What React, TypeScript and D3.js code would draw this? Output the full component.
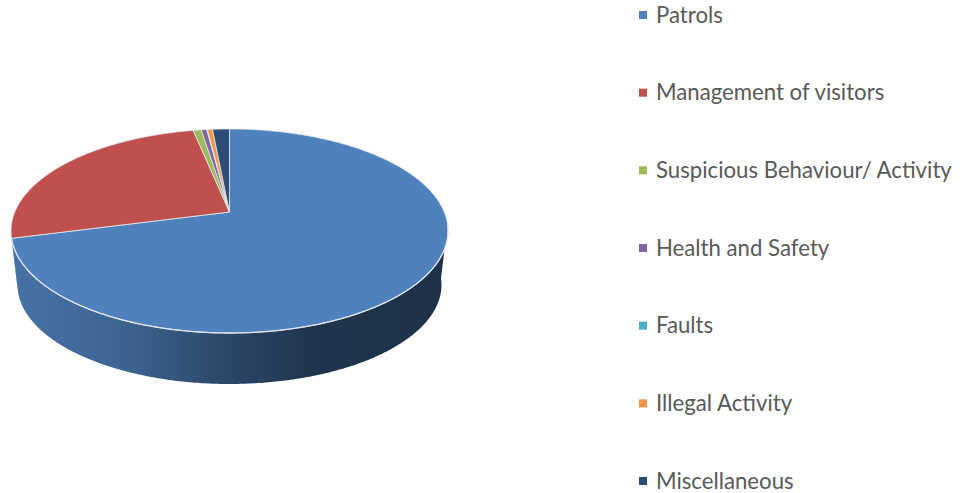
import React from "react";
import * as d3 from "d3";

const categories = ["Patrols", "Management of visitors", "Suspicious Behaviour/ Activity", "Health and Safety", "Faults", "Illegal Activity", "Miscellaneous"];
const shares = [70.9, 25.9, 0.7, 0.5, 0.05, 0.45, 1.5];
const colors = ["#4f81bd", "#c0504d", "#9bbb59", "#8064a2", "#4bacc6", "#f79646", "#2c4d75"];

const WIDTH = 963;
const HEIGHT = 493;
const apex = { x: 229.5, y: 212 };
const A = 214.7;
const B = 98.5;
const K = -0.186;
const wallScale = 0.97;
const wallDrop = 54.6;
const visibleFrom = (97 * Math.PI) / 180;
const visibleTo = (259 * Math.PI) / 180;

const project = (theta: number, base = false): [number, number] => {
  const u = Math.sin(theta);
  const v = -Math.cos(theta);
  const w = 1 + K * v;
  const s = base ? wallScale : 1;
  return [apex.x + (s * A * u) / w, apex.y + (base ? wallDrop : 0) + (s * B * v) / w];
};

const samples = (a: number, b: number): number[] => {
  const n = Math.max(2, Math.ceil(Math.abs(b - a) / 0.01));
  return d3.range(n + 1).map((i) => a + ((b - a) * i) / n);
};

const line = d3.line<[number, number]>().x((d) => d[0]).y((d) => d[1]);

const arcs = d3
  .pie<number>()
  .sort(null)
  .startAngle(0)
  .endAngle(2 * Math.PI)(shares);

const legendY = d3.scalePoint<string>().domain(categories).range([15, 481]);

const topPath = (a: number, b: number) =>
  line([[apex.x, apex.y], ...samples(a, b).map((t) => project(t))])! + "Z";

const wallPath = (a: number, b: number) => {
  const s = Math.max(a, visibleFrom);
  const e = Math.min(b, visibleTo);
  if (e <= s) return null;
  return (
    line([
      ...samples(s, e).map((t) => project(t)),
      ...samples(e, s).map((t) => project(t, true)),
    ])! + "Z"
  );
};

export default function App() {
  return (
    <svg
      width={WIDTH}
      height={HEIGHT}
      viewBox={`0 0 ${WIDTH} ${HEIGHT}`}
      style={{ position: "absolute", left: 0, top: 0, display: "block", background: "#fff" }}
    >
      <defs>
        <linearGradient id="wall" gradientUnits="userSpaceOnUse" x1={11} x2={448} y1={0} y2={0}>
          <stop offset="0" stopColor="#4672a5" />
          <stop offset="0.25" stopColor="#3d6592" />
          <stop offset="0.5" stopColor="#2b4667" />
          <stop offset="0.7" stopColor="#1f344d" />
          <stop offset="1" stopColor="#1e3148" />
        </linearGradient>
      </defs>
      {arcs.map((d, i) => {
        const p = wallPath(d.startAngle, d.endAngle);
        return p ? <path key={i} d={p} fill="url(#wall)" /> : null;
      })}
      {arcs.map((d, i) => (
        <path
          key={i}
          d={topPath(d.startAngle, d.endAngle)}
          fill={colors[i]}
          stroke="#e4e9f0"
          strokeWidth={0.8}
          strokeLinejoin="round"
        />
      ))}
      <path
        d={line(samples(visibleFrom, arcs[0].endAngle).map((t) => project(t)))!}
        fill="none"
        stroke="#dfe5ec"
        strokeWidth={1.3}
      />
      {categories.map((c, i) => {
        const y = legendY(c)!;
        return (
          <g key={c}>
            <rect x={639} y={y - 4} width={8} height={8} fill={colors[i]} />
            <text
              x={656}
              y={y}
              dy="0.35em"
              fontFamily="Lato, 'Open Sans', sans-serif"
              fontSize={22.2}
              fill="#595959"
            >
              {c}
            </text>
          </g>
        );
      })}
    </svg>
  );
}
